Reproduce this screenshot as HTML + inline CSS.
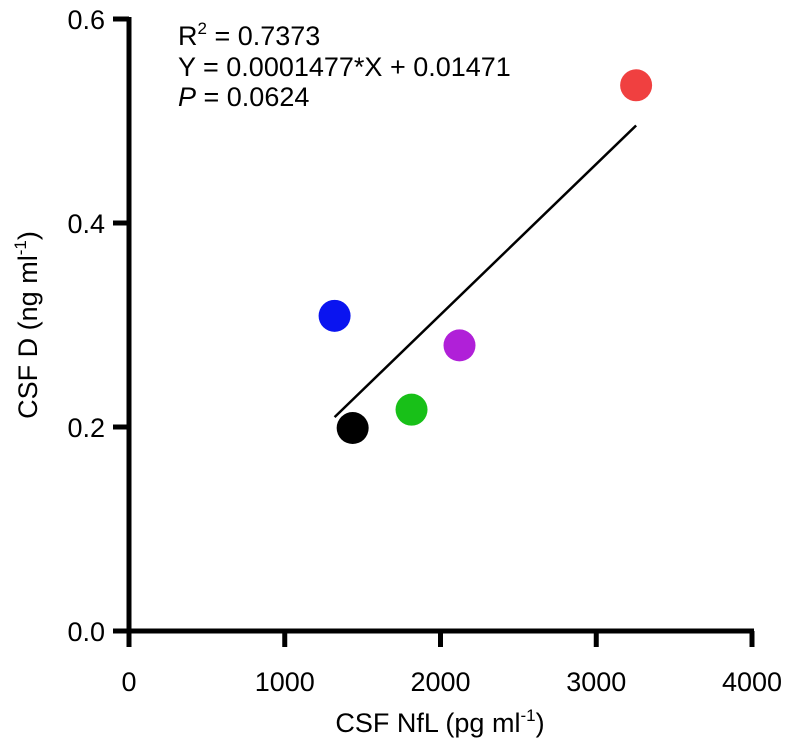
<!DOCTYPE html>
<html><head><meta charset="utf-8"><style>
body{margin:0;background:#fff}
svg text{font-family:"Liberation Sans",Arial,sans-serif;fill:#000}
</style></head><body>
<svg id="chart" width="792" height="751" viewBox="0 0 792 751"></svg>
<script>
const xTicks=[0,1000,2000,3000,4000];
const yTicks=[0.0,0.2,0.4,0.6];
const yTickLabels=["0.0","0.2","0.4","0.6"];
const xVals=[3256,1320,2122,1814,1436];
const yVals=[0.535,0.309,0.280,0.217,0.199];
const colors=["#f04040","#0a14f0","#b020d8","#18c018","#000000"];
const pointNames=["point-red","point-blue","point-purple","point-green","point-black"];
const slope=0.0001477, intercept=0.01471;
const fitRange=[1320,3256];
const NS="http://www.w3.org/2000/svg";
const svg=document.getElementById('chart');
const X0=129,X1=752,Y0=631,Y1=19;
const sx=v=>X0+(v-0)/(4000-0)*(X1-X0);
const sy=v=>Y0-(v-0)/(0.6-0)*(Y0-Y1);
function mk(t,a,p){const e=document.createElementNS(NS,t);for(const k in a)e.setAttribute(k,a[k]);(p||svg).appendChild(e);return e;}
let ax=mk('line',{x1:X0,y1:Y1-2,x2:X0,y2:Y0+2,stroke:'#000','stroke-width':5});


ax=mk('line',{x1:X0-2,y1:Y0,x2:X1+2,y2:Y0,stroke:'#000','stroke-width':5});


xTicks.forEach(v=>{
 const t=mk('line',{x1:sx(v),y1:Y0,x2:sx(v),y2:Y0+16,stroke:'#000','stroke-width':5});
 
 
 const l=mk('text',{x:sx(v),y:Y0+60,'text-anchor':'middle','font-size':27});
 l.textContent=v;
 
 
});
yTicks.forEach((v,i)=>{
 const t=mk('line',{x1:X0-16,y1:sy(v),x2:X0,y2:sy(v),stroke:'#000','stroke-width':5});
 
 
 const l=mk('text',{x:X0-24,y:sy(v)+10,'text-anchor':'end','font-size':27});
 l.textContent=yTickLabels[i];
 
 
});
const fl=mk('line',{x1:sx(fitRange[0]),y1:sy(slope*fitRange[0]+intercept),x2:sx(fitRange[1]),y2:sy(slope*fitRange[1]+intercept),stroke:'#000','stroke-width':2.5});


xVals.forEach((v,i)=>{
 const c=mk('circle',{cx:sx(v),cy:sy(yVals[i]),r:16,fill:colors[i]});
 
 
});
</script>
<svg style="position:absolute;left:0;top:0" width="792" height="751">
<text x="178" y="45" font-size="27">R<tspan font-size="17" dy="-11">2</tspan><tspan dy="11"> = 0.7373</tspan></text>
<text x="178" y="76" font-size="27">Y = 0.0001477*X + 0.01471</text>
<text x="178" y="106" font-size="27"><tspan font-style="italic">P</tspan> = 0.0624</text>
<text x="440" y="732" font-size="27" text-anchor="middle">CSF NfL (pg ml<tspan font-size="17" dy="-11">-1</tspan><tspan dy="11">)</tspan></text>
<text transform="translate(37,325) rotate(-90)" font-size="27" text-anchor="middle">CSF D (ng ml<tspan font-size="17" dy="-11">-1</tspan><tspan dy="11">)</tspan></text>
</svg>
</body></html>
